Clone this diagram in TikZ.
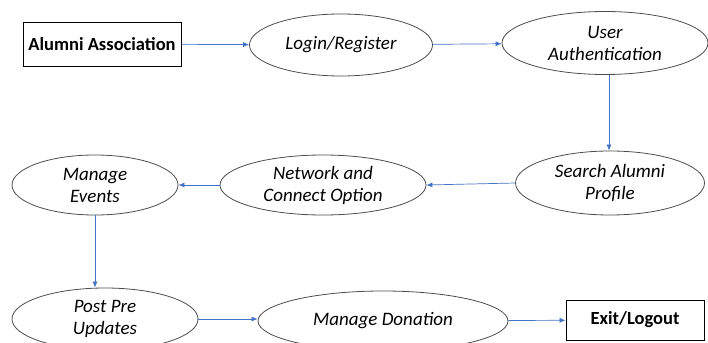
\documentclass[tikz,border=0pt]{standalone}
\usepackage{fontspec}
\setmainfont{Carlito}
\usetikzlibrary{shapes.geometric,arrows.meta}
\definecolor{flowblue}{RGB}{68,114,196}
\tikzset{
  oval/.style={ellipse, draw=black!70, line width=0.8pt, inner sep=0pt, align=center, font=\fontsize{19}{22}\selectfont\itshape},
  endbox/.style={rectangle, draw=black, line width=0.9pt, inner sep=0pt, font=\fontsize{18.5}{22}\selectfont\bfseries},
  flow/.style={draw=flowblue, line width=0.7pt, -{Latex[length=6pt,width=5pt]}}
}
\begin{document}
\begin{tikzpicture}[x=1pt,y=-1pt]
\useasboundingbox (0,0) rectangle (708,342);

\node[endbox, minimum width=158pt, minimum height=44pt] (alumni) at (102,44) {Alumni Association};
\node[oval, minimum width=183pt, minimum height=62pt] (login) at (341,45) {Login/Register};
\node[oval, minimum width=206pt, minimum height=63pt] (auth) at (605,43) {User\\Authentication};

\node[oval, minimum width=189pt, minimum height=64pt] (search) at (610,183) {Search Alumni\\Profile};
\node[oval, minimum width=206pt, minimum height=60pt] (network) at (323,185) {Network and\\Connect Option};
\node[oval, minimum width=166pt, minimum height=60pt] (events) at (95,185) {Manage\\Events};

\node[oval, minimum width=186pt, minimum height=62pt] (post) at (105,319) {Post Pre\\Updates};
\node[oval, minimum width=250pt, minimum height=60pt] (donation) at (383,321) {Manage Donation};
\node[endbox, minimum width=138pt, minimum height=40pt] (exit) at (635,320) {Exit/Logout};

\draw[flow] (alumni) -- (login);
\draw[flow] (login) -- (auth);
\draw[flow] (auth.south -| 609,0) -- (search.north -| 609,0);
\draw[flow] (search.west) -- (network.east);
\draw[flow] (network) -- (events);
\draw[flow] (events) -- (events |- post.north);
\draw[flow] (post.east) -- (post.east -| donation.west);
\draw[flow] (donation) -- (exit);

\end{tikzpicture}
\end{document}
